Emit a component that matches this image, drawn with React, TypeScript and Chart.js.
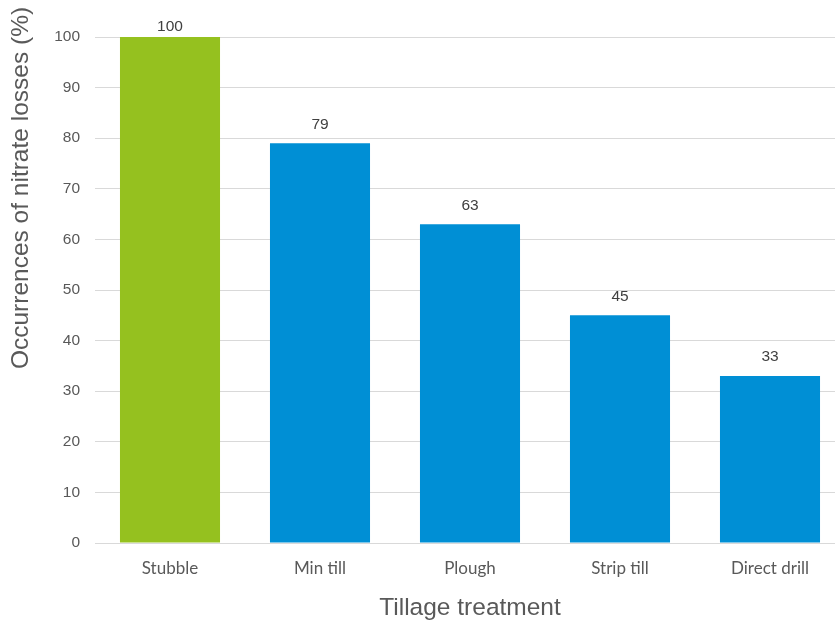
import React, { useEffect, useRef } from "react";
import { Chart, registerables } from "chart.js";

Chart.register(...registerables);

const categories = ["Stubble", "Min till", "Plough", "Strip till", "Direct drill"];
const values = [100, 79, 63, 45, 33];
const barColors = ["#95c11f", "#008fd5", "#008fd5", "#008fd5", "#008fd5"];
const yTitle = "Occurrences of nitrate losses (%)";
const xTitle = "Tillage treatment";

const labelPlugin = {
  id: "customLabels",
  afterDatasetsDraw(chart: any) {
    const ctx = chart.ctx;
    const meta = chart.getDatasetMeta(0);
    ctx.save();
    ctx.fillStyle = "#404040";
    ctx.font = "15.5px 'Liberation Sans', Arial, sans-serif";
    ctx.textAlign = "center";
    ctx.textBaseline = "middle";
    meta.data.forEach((bar: any, i: number) => {
      const y = Math.max(bar.y - 19, chart.chartArea.top - 10);
      ctx.fillText(String(values[i]), bar.x, y);
    });
    ctx.restore();
  },
  afterDraw(chart: any) {
    const ctx = chart.ctx;
    const area = chart.chartArea;
    ctx.save();
    ctx.fillStyle = "#595959";
    ctx.font = "24.5px 'Liberation Sans', Arial, sans-serif";
    ctx.textAlign = "center";
    ctx.textBaseline = "middle";
    ctx.fillText(xTitle, (area.left + area.right) / 2, 608);
    ctx.translate(21, 188);
    ctx.rotate(-Math.PI / 2);
    ctx.fillText(yTitle, 0, 0);
    ctx.restore();
  },
};

export default function App() {
  const ref = useRef<HTMLCanvasElement>(null);
  useEffect(() => {
    const chart = new Chart(ref.current!, {
      type: "bar",
      data: {
        labels: categories,
        datasets: [
          {
            data: values,
            backgroundColor: barColors,
            categoryPercentage: 1,
            barPercentage: 0.667,
          },
        ],
      },
      options: {
        animation: false,
        responsive: false,
        maintainAspectRatio: false,
        layout: { padding: { top: 37, right: 0, left: 0, bottom: 0 } },
        plugins: { legend: { display: false }, tooltip: { enabled: false } },
        scales: {
          x: {
            afterFit: (s: any) => {
              s.height = 79;
            },
            grid: { display: false, drawTicks: false },
            border: { color: "#d9d9d9", width: 1 },
            ticks: {
              padding: 15,
              color: "#595959",
              font: { family: "Lato, 'Open Sans', sans-serif", size: 17 },
              maxRotation: 0,
            },
          },
          y: {
            min: 0,
            max: 100,
            afterFit: (s: any) => {
              s.width = 95;
            },
            grid: { color: "#d9d9d9", drawTicks: false },
            border: { display: false },
            ticks: {
              stepSize: 10,
              padding: 15,
              color: "#595959",
              font: { family: "'Liberation Sans', Arial, sans-serif", size: 15.5 },
            },
          },
        },
      },
      plugins: [labelPlugin],
    });
    return () => chart.destroy();
  }, []);
  return (
    <div
      style={{
        position: "fixed",
        left: 0,
        top: 0,
        width: 835,
        height: 622,
        overflow: "hidden",
        background: "#fff",
      }}
    >
      <canvas ref={ref} width={845} height={622} style={{ display: "block" }} />
    </div>
  );
}
